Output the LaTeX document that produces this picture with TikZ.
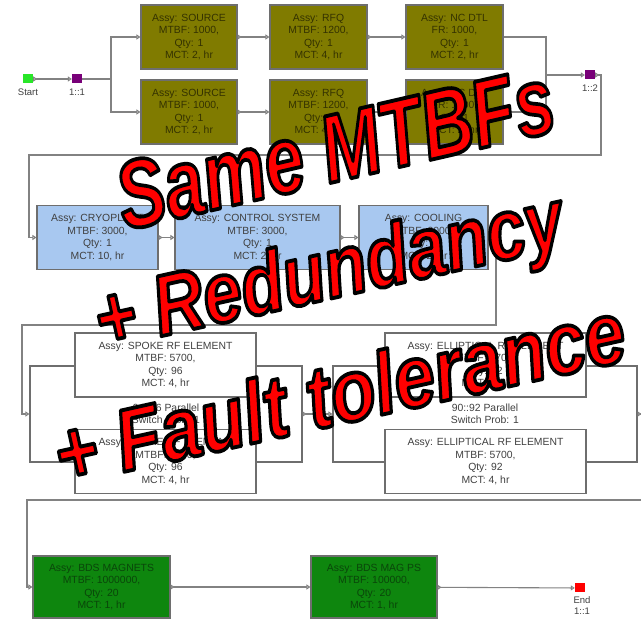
\documentclass[tikz,border=0pt]{standalone}
\usepackage{fontspec}
\setmainfont{Liberation Sans}
\usetikzlibrary{arrows.meta}
\definecolor{olivebox}{RGB}{128,123,0}
\definecolor{olivetxt}{RGB}{52,50,0}
\definecolor{bluebox}{RGB}{168,200,240}
\definecolor{greenbox}{RGB}{14,134,14}
\definecolor{greentxt}{RGB}{10,70,10}
\definecolor{edgegray}{RGB}{110,110,110}
\definecolor{linegray}{RGB}{130,130,130}
\definecolor{txtgray}{RGB}{64,64,64}
\definecolor{bigred}{RGB}{255,0,0}
\definecolor{startgreen}{RGB}{40,230,40}
\definecolor{junctpurple}{RGB}{120,0,120}
\newcommand\outlined[1]{\special{pdf:literal direct 2 Tr 3.8 w 1 j 0 0 0 RG}#1\special{pdf:literal direct 0 Tr}}
\tikzset{
  blk/.style={draw=edgegray, line width=1.1pt, align=center, inner sep=0pt,
    font=\fontsize{10.4}{12.5}\selectfont, text=txtgray},
  olivebk/.style={blk, fill=olivebox, text=olivetxt, minimum height=64pt},
  bluebk/.style={blk, fill=bluebox, minimum height=64pt},
  whitebk/.style={blk, fill=white, minimum height=64pt},
  greenbk/.style={blk, fill=greenbox, text=greentxt, minimum height=62pt},
  contbk/.style={draw=edgegray, line width=1.1pt, fill=white, minimum height=96pt},
  midtxt/.style={align=center, font=\fontsize{10.4}{12.5}\selectfont, text=txtgray, inner sep=0pt},
  conn/.style={draw=linegray, line width=1.1pt,
    arrows={Triangle[reversed,length=4pt,width=5pt,fill=white]-Triangle[length=4pt,width=5pt,fill=white]}},
  connend/.style={draw=linegray, line width=1.1pt,
    arrows={-Triangle[length=4pt,width=5pt,fill=white]}},
  plain/.style={draw=linegray, line width=1.1pt},
  term/.style={minimum width=10pt, minimum height=9pt, inner sep=0pt},
  lbl/.style={font=\fontsize{9.5}{11}\selectfont, text=txtgray, inner sep=0pt},
  bigtxt/.style={text=bigred, inner sep=0pt},
}
\begin{document}
\begin{tikzpicture}[x=1pt, y=-1pt]
\useasboundingbox (0,0) rectangle (641,620);
\fill[white] (0,0) rectangle (641,620);

% ---- row 1 : sources / RFQ / DTL
\node[olivebk, minimum width=96pt] (src1) at (189,37) {Assy: SOURCE\\MTBF: 1000,\\Qty: 1\\MCT: 2, hr};
\node[olivebk, minimum width=97pt] (rfq1) at (318.5,37) {Assy: RFQ\\MTBF: 1200,\\Qty: 1\\MCT: 4, hr};
\node[olivebk, minimum width=97pt] (dtl1) at (454.5,37) {Assy: NC DTL\\FR: 1000,\\Qty: 1\\MCT: 2, hr};
\node[olivebk, minimum width=96pt] (src2) at (189,112) {Assy: SOURCE\\MTBF: 1000,\\Qty: 1\\MCT: 2, hr};
\node[olivebk, minimum width=97pt] (rfq2) at (318.5,112) {Assy: RFQ\\MTBF: 1200,\\Qty: 1\\MCT: 4, hr};
\node[olivebk, minimum width=97pt] (dtl2) at (454.5,112) {Assy: NC DTL\\FR: 1000,\\Qty: 1\\MCT: 2, hr};

\node[term, fill=startgreen] (start) at (28,79) {};
\node[lbl] (startl) at (28,92) {Start};
\node[term, fill=junctpurple] (j11) at (77,79) {};
\node[lbl] (j11l) at (77,92) {1::1};
\node[term, fill=junctpurple] (j12) at (590,75) {};
\node[lbl] (j12l) at (590,88) {1::2};

\coordinate (b1) at (111,79);
\coordinate (b2) at (546,75);
\draw[conn] (start) -- (j11);
\draw[plain] (j11.east) -- (b1);
\draw[connend] (b1) |- (src1.west);
\draw[connend] (b1) |- (src2.west);
\draw[conn] (src1) -- (rfq1);
\draw[conn] (rfq1) -- (dtl1);
\draw[conn] (src2) -- (rfq2);
\draw[conn] (rfq2) -- (dtl2);
\draw[plain] (dtl1.east) -| (b2);
\draw[plain] (dtl2.east) -| (b2);
\draw[connend] (b2) -- (j12.west);

% ---- row 2 : blue
\node[bluebk, minimum width=121pt] (cryo) at (97.5,237.5) {Assy: CRYOPLANT\\MTBF: 3000,\\Qty: 1\\MCT: 10, hr};
\node[bluebk, minimum width=165pt] (ctrl) at (257.5,237.5) {Assy: CONTROL SYSTEM\\MTBF: 3000,\\Qty: 1\\MCT: 2, hr};
\node[bluebk, minimum width=129pt] (cool) at (423.5,237.5) {Assy: COOLING\\MTBF: 3000,\\Qty: 1\\MCT: 2, hr};

\coordinate (c1) at (601,155);
\coordinate (c2) at (29,155);
\draw[conn] (j12.east) -| (c1) -- (c2) |- (cryo.west);
\draw[conn] (cryo) -- (ctrl);
\draw[conn] (ctrl) -- (cool);

% ---- row 3 : parallel blocks
\node[contbk, minimum width=272pt] (spk) at (166,414) {};
\node[whitebk, minimum width=181pt] (spk1) at (165.5,365) {Assy: SPOKE RF ELEMENT\\MTBF: 5700,\\Qty: 96\\MCT: 4, hr};
\node[whitebk, minimum width=181pt] (spk2) at (165.5,461.5) {Assy: SPOKE RF ELEMENT\\MTBF: 5700,\\Qty: 96\\MCT: 4, hr};
\node[midtxt] (spkm) at (166,414) {94::96 Parallel\\Switch Prob: 1};

\node[contbk, minimum width=304pt] (ell) at (485,414) {};
\node[whitebk, minimum width=201pt] (ell1) at (485.5,365) {Assy: ELLIPTICAL RF ELEMENT\\MTBF: 5700,\\Qty: 92\\MCT: 4, hr};
\node[whitebk, minimum width=201pt] (ell2) at (485.5,461.5) {Assy: ELLIPTICAL RF ELEMENT\\MTBF: 5700,\\Qty: 92\\MCT: 4, hr};
\node[midtxt] (ellm) at (485,414) {90::92 Parallel\\Switch Prob: 1};

\coordinate (d1) at (496,325);
\coordinate (d2) at (22,325);
\draw[conn] (cool.east) -| (d1) -- (d2) |- (spk.west);
\draw[conn] (spk) -- (ell);
\coordinate (e1) at (645,414);
\draw[plain, arrows={Triangle[reversed,length=4pt,width=5pt,fill=white]-}] (ell.east) -- (e1);

% ---- row 4 : green
\node[greenbk, minimum width=137pt] (mag) at (101.5,587) {Assy: BDS MAGNETS\\MTBF: 1000000,\\Qty: 20\\MCT: 1, hr};
\node[greenbk, minimum width=126pt] (ps) at (374,587) {Assy: BDS MAG PS\\MTBF: 100000,\\Qty: 20\\MCT: 1, hr};
\node[term, fill=red] (endn) at (580,588) {};
\node[lbl, align=center] (endl) at (582,606) {End\\1::1};

\coordinate (f1) at (645,500);
\coordinate (f2) at (27,500);
\draw[connend] (f1) -- (f2) |- (mag.west);
\draw[conn] (mag) -- (ps);
\draw[conn] (ps) -- (endn);

% ---- overlay
\node[bigtxt, rotate=13, xscale=0.74, font=\fontsize{96}{96}\selectfont\bfseries\itshape] (t1) at (335,148) {\outlined{Same MTBFs}};
\node[bigtxt, rotate=12.5, xscale=0.81, font=\fontsize{86}{86}\selectfont\bfseries\itshape] (t2) at (330,276) {\outlined{+ Redundancy}};
\node[bigtxt, rotate=12.5, xscale=0.83, font=\fontsize{88}{88}\selectfont\bfseries\itshape] (t3) at (339,392) {\outlined{+ Fault tolerance}};
\end{tikzpicture}
\end{document}
